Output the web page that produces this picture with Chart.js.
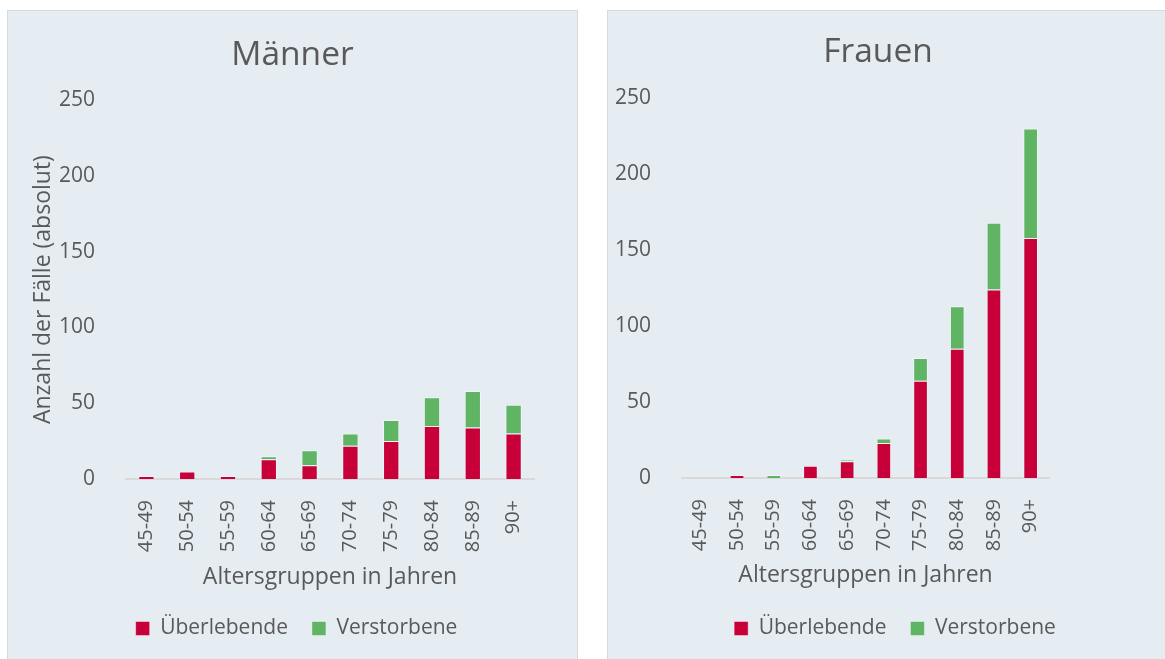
<!DOCTYPE html>
<html>
<head>
<meta charset="utf-8">
<script src="https://cdn.jsdelivr.net/npm/chart.js@4/dist/chart.umd.min.js"></script>
<style>
  html, body { margin: 0; padding: 0; background: #ffffff; width: 1165px; height: 659px; overflow: hidden; }
  .panel { position: absolute; background: #E5EDF3; border: 1px solid #D9D9D9; box-sizing: border-box; }
  canvas { position: absolute; }
</style>
</head>
<body>
<div class="panel" style="left:7px; top:10px; width:571px; height:660px;"></div>
<div class="panel" style="left:607px; top:10px; width:570px; height:660px;"></div>
<canvas id="men" width="569" height="649" style="left:8px; top:10px;"></canvas>
<canvas id="women" width="557" height="649" style="left:608px; top:10px;"></canvas>
<script>
const categories = ['45-49', '50-54', '55-59', '60-64', '65-69', '70-74', '75-79', '80-84', '85-89', '90+'];
const menSurvivors   = [2, 5, 2, 13, 9, 22, 25, 35, 34, 30];
const menDeceased    = [0, 0, 0, 2, 10, 8, 14, 19, 24, 19];
const womenSurvivors = [0, 2, 0, 8, 11, 23, 64, 85, 124, 158];
const womenDeceased  = [0, 0, 2, 0, 1, 3, 15, 28, 44, 72];
const yMin = 0, yMax = 250, yStep = 50;
const seriesNames = ['Überlebende', 'Verstorbene'];
const chartTitles = ['Männer', 'Frauen'];
const yAxisTitle = 'Anzahl der Fälle (absolut)';
const xAxisTitle = 'Altersgruppen in Jahren';

const RED = '#C8003A', GREEN = '#60B564', TEXT = '#595959';
const FONT = "'Open Sans', 'DejaVu Sans', sans-serif";

const shiftPlugin = {
  id: 'shiftBoxes',
  afterLayout(chart, args, opts) {
    if (opts.title && chart.titleBlock) { chart.titleBlock.left += opts.title; chart.titleBlock.right += opts.title; }
    if (opts.legend && chart.legend) { chart.legend.left += opts.legend; chart.legend.right += opts.legend; }
  }
};

function makeChart(id, title, surv, dec, cfg) {
  return new Chart(document.getElementById(id), {
    type: 'bar',
    data: {
      labels: categories,
      datasets: [
        { label: seriesNames[0], data: surv, backgroundColor: RED, borderColor: 'rgba(255,255,255,0.4)', borderWidth: 1 },
        { label: seriesNames[1], data: dec, backgroundColor: GREEN, borderColor: 'rgba(255,255,255,0.4)', borderWidth: 1 }
      ]
    },
    plugins: [shiftPlugin],
    options: {
      responsive: false,
      animation: false,
      devicePixelRatio: 1,
      layout: { padding: { left: cfg.padLeft, right: 0, top: 0, bottom: 10 } },
      datasets: { bar: { categoryPercentage: 1.0, barPercentage: 0.4 } },
      plugins: {
        shiftBoxes: { title: cfg.titleShift, legend: cfg.legendShift },
        title: {
          display: true, text: title, color: TEXT,
          font: { family: FONT, size: 33.5, weight: 'normal' },
          padding: { top: cfg.titleTop, bottom: cfg.titleBottom }
        },
        legend: {
          display: true, position: 'bottom',
          labels: {
            color: TEXT, font: { family: FONT, size: 21 },
            boxWidth: 14, boxHeight: 14, padding: 24
          }
        },
        tooltip: { enabled: false }
      },
      scales: {
        x: {
          stacked: true,
          grid: { display: false },
          border: { display: true, color: '#D9D9D9', width: 2 },
          ticks: { color: TEXT, font: { family: FONT, size: 20 }, minRotation: 90, maxRotation: 90, autoSkip: false, padding: 13 },
          title: { display: true, text: xAxisTitle, color: TEXT, font: { family: FONT, size: 23 }, padding: { top: 0, bottom: cfg.xTitleBottom } },
          afterFit: a => { a.height = cfg.xHeight; }
        },
        y: {
          stacked: true,
          min: yMin, max: yMax,
          grid: { display: false },
          border: { display: false },
          ticks: { stepSize: yStep, color: TEXT, font: { family: FONT, size: 21 }, padding: 23 },
          title: { display: cfg.yTitle, text: yAxisTitle, color: TEXT, font: { family: FONT, size: 23 }, padding: { top: 0, bottom: 0 } },
          afterFit: a => { a.width = cfg.yWidth; }
        },
        yR: {
          type: 'linear', position: 'right', display: true,
          grid: { display: false }, border: { display: false },
          ticks: { display: false },
          afterFit: a => { a.width = cfg.rightWidth; }
        }
      }
    }
  });
}

makeChart('men', chartTitles[0], menSurvivors, menDeceased, {
  padLeft: 22, titleShift: -11, legendShift: -7, titleTop: 25, titleBottom: 25,
  xHeight: 115, xTitleBottom: 3, yTitle: true, yWidth: 96, rightWidth: 43
});
makeChart('women', chartTitles[1], womenSurvivors, womenDeceased, {
  padLeft: 0, titleShift: -8.5, legendShift: 8.5, titleTop: 22, titleBottom: 26,
  xHeight: 116, xTitleBottom: 5, yTitle: false, yWidth: 74, rightWidth: 116
});
</script>
</body>
</html>
